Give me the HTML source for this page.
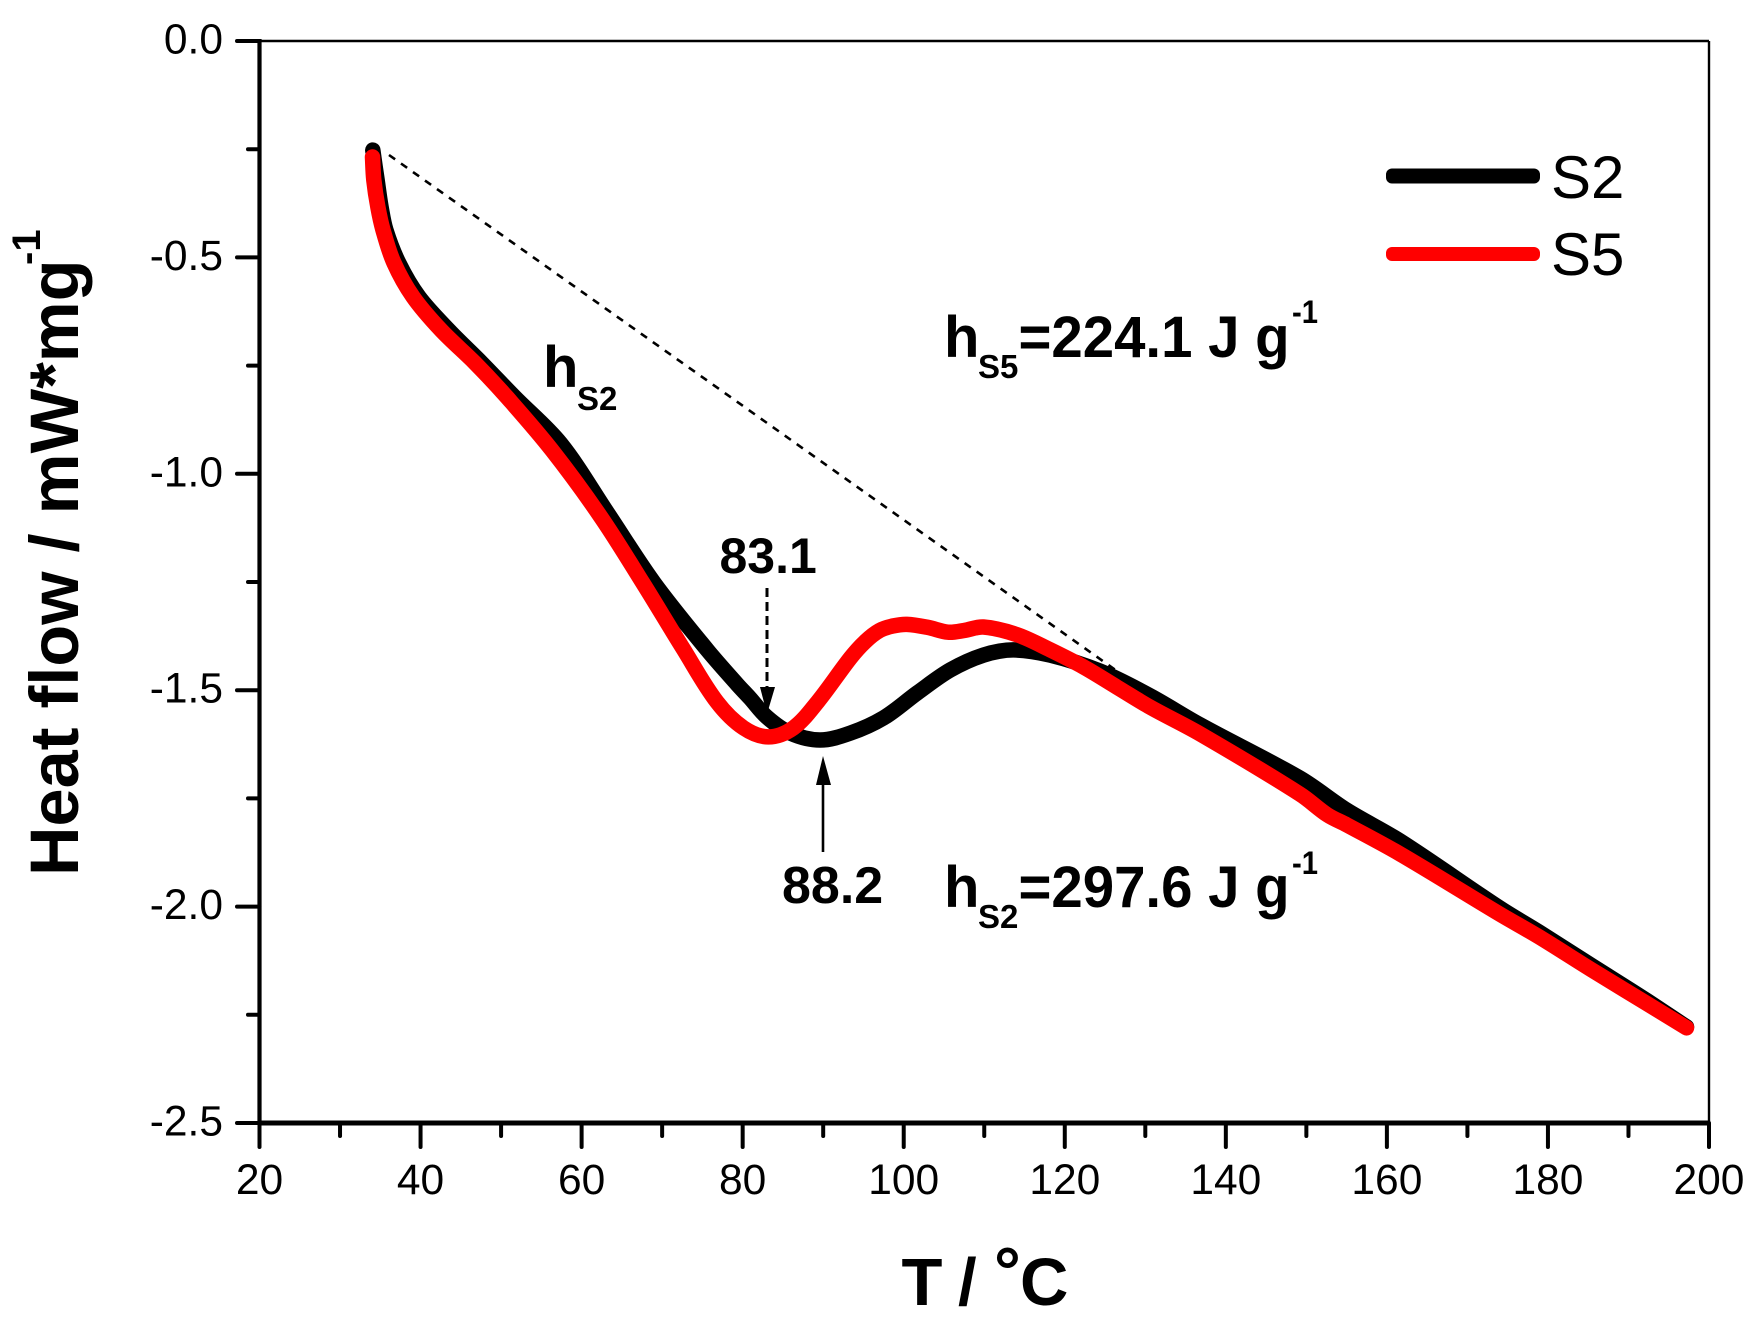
<!DOCTYPE html>
<html>
<head>
<meta charset="utf-8">
<title>Heat flow chart</title>
<style>
html,body{margin:0;padding:0;background:#fff;}
svg{display:block;}
text{font-family:"Liberation Sans",sans-serif;fill:#000;}
.b{font-weight:bold;}
</style>
</head>
<body>
<svg id="chart" xmlns="http://www.w3.org/2000/svg" width="1759" height="1340" viewBox="0 0 1759 1340">
  <rect x="0" y="0" width="1759" height="1340" fill="#fff"/>
  <g id="axes"></g>

  <line x1="389" y1="155" x2="1155" y2="698" stroke="#000" stroke-width="2.6" stroke-dasharray="7.5 7.2"/>

  <g id="series"></g>

  <line x1="767" y1="588" x2="767" y2="690" stroke="#000" stroke-width="3" stroke-dasharray="9 5"/>
  <polygon points="760,687 775,687 767,714" fill="#000"/>
  <line x1="823" y1="852" x2="823" y2="782" stroke="#000" stroke-width="2.6"/>
  <polygon points="816,785 831,785 823,756" fill="#000"/>

  <text class="b" x="719.5" y="573" font-size="50">83.1</text>
  <text class="b" x="782" y="903" font-size="52">88.2</text>

  <text class="b" x="543" y="387" font-size="58">h</text>
  <text class="b" x="577" y="410" font-size="33">S2</text>

  <text class="b" x="944" y="357" font-size="58">h</text>
  <text class="b" x="978" y="378" font-size="33">S5</text>
  <text class="b" x="1018.5" y="357" font-size="58" textLength="271" lengthAdjust="spacingAndGlyphs">=224.1 J g</text>
  <text class="b" x="1292" y="323" font-size="32" textLength="26" lengthAdjust="spacingAndGlyphs">-1</text>

  <text class="b" x="944" y="907" font-size="58">h</text>
  <text class="b" x="978" y="928" font-size="33">S2</text>
  <text class="b" x="1018.5" y="907" font-size="58" textLength="271" lengthAdjust="spacingAndGlyphs">=297.6 J g</text>
  <text class="b" x="1292" y="874" font-size="32" textLength="26" lengthAdjust="spacingAndGlyphs">-1</text>

  <rect x="1386" y="168.5" width="154" height="15" rx="6" fill="#000"/>
  <text x="1551" y="198" font-size="60">S2</text>
  <rect x="1386" y="247" width="154" height="14" rx="6" fill="#f00"/>
  <text x="1551" y="275" font-size="60">S5</text>

  <text class="b" transform="translate(78,876) rotate(-90)" font-size="68.5">Heat flow / mW*mg</text>
  <text class="b" transform="translate(40,265) rotate(-90)" font-size="40">-1</text>
  <text class="b" x="901.5 943 958 977 994 1020" y="1305" font-size="67">T / <tspan dy="-11">°</tspan><tspan dy="11">C</tspan></text>
</svg>
<script>
// Chart data
const xTickValues = [20, 40, 60, 80, 100, 120, 140, 160, 180, 200];
const xMinorTickValues = [30, 50, 70, 90, 110, 130, 150, 170, 190];
const yTickValues = [0, -0.5, -1, -1.5, -2, -2.5];
const yMinorTickValues = [-0.25, -0.75, -1.25, -1.75, -2.25];
const yTickLabels = ['0.0', '-0.5', '-1.0', '-1.5', '-2.0', '-2.5'];

const s2Temps = [34.07, 34.6, 35.1, 35.7, 37.3, 39.8, 43.5, 47.6, 51.7, 57.4, 63.2, 69, 75.6, 79.3, 80.9, 83, 85.9, 89.6, 93.4, 97.5, 101.7, 105.8, 109.9, 113.6, 118.2, 124.4, 130.6, 136.8, 149.2, 155, 161.6, 174, 178.9, 185.5, 192.2, 197.2];
const s2Flow = [-0.252, -0.321, -0.384, -0.437, -0.513, -0.591, -0.668, -0.744, -0.823, -0.93, -1.09, -1.252, -1.407, -1.486, -1.518, -1.562, -1.599, -1.615, -1.599, -1.564, -1.506, -1.453, -1.419, -1.407, -1.419, -1.456, -1.513, -1.58, -1.703, -1.777, -1.848, -2.003, -2.059, -2.137, -2.216, -2.278];

const s5Temps = [34.03, 34.2, 34.7, 35.34, 36.7, 39.06, 42.54, 46.76, 50.73, 56.3, 62.4, 67.6, 72.7, 76.8, 80.1, 83.2, 86.3, 89.3, 93.4, 95.2, 97, 98.6, 100.4, 103, 105.5, 107.5, 109.9, 114.1, 118.2, 122.3, 126.5, 130.6, 136.8, 149.2, 152.6, 155, 161.6, 174, 178.9, 185.5, 192.2, 197.2];
const s5Flow = [-0.268, -0.321, -0.384, -0.437, -0.513, -0.591, -0.668, -0.744, -0.823, -0.945, -1.1, -1.252, -1.407, -1.527, -1.587, -1.608, -1.587, -1.527, -1.425, -1.388, -1.362, -1.352, -1.348, -1.355, -1.366, -1.362, -1.354, -1.372, -1.407, -1.446, -1.493, -1.539, -1.601, -1.74, -1.788, -1.811, -1.878, -2.017, -2.07, -2.147, -2.223, -2.28];

// Axis functions
const NS = 'http://www.w3.org/2000/svg';
const plotLeft = 259.5, plotRight = 1709, plotTop = 41, plotBottom = 1123;
function xPos(v) { return plotLeft + (v - 20) / 180 * (plotRight - plotLeft); }
function yPos(v) { return plotTop + (0 - v) / 2.5 * (plotBottom - plotTop); }

const axes = document.getElementById('axes');
const seriesGroup = document.getElementById('series');

function drawLine(x1, y1, x2, y2, w, cap) {
  const l = document.createElementNS(NS, 'line');
  l.setAttribute('x1', x1);
  l.setAttribute('y1', y1);
  l.setAttribute('x2', x2);
  l.setAttribute('y2', y2);
  l.setAttribute('stroke', '#000');
  l.setAttribute('stroke-width', w);
  l.setAttribute('stroke-linecap', cap || 'butt');
  axes.appendChild(l);
  return l;
}
function drawLabel(x, y, str, anchor) {
  const t = document.createElementNS(NS, 'text');
  t.setAttribute('x', x);
  t.setAttribute('y', y);
  t.setAttribute('font-size', '42.5');
  t.setAttribute('text-anchor', anchor);
  t.textContent = str;
  axes.appendChild(t);
  return t;
}

const frameTop = drawLine(plotLeft, plotTop, plotRight, plotTop, 2.4);


const frameRight = drawLine(plotRight, plotTop, plotRight, plotBottom, 2.4);


const axisLeft = drawLine(plotLeft, plotTop - 2, plotLeft, plotBottom, 4.2);


const axisBottom = drawLine(plotLeft, plotBottom, plotRight, plotBottom, 5);



xTickValues.forEach(function (v) {
  const tick = drawLine(xPos(v), plotBottom, xPos(v), 1147, 4, 'round');
  
  
  const label = drawLabel(xPos(v), 1194, String(v), 'middle');
  
  
});
xMinorTickValues.forEach(function (v) {
  const tick = drawLine(xPos(v), plotBottom, xPos(v), 1136, 4, 'round');
  
  
});
yTickValues.forEach(function (v, i) {
  const tick = drawLine(237, yPos(v), plotLeft, yPos(v), 4, 'round');
  
  
  const label = drawLabel(223, yPos(v) + 12.5, yTickLabels[i], 'end');
  
  
});
yMinorTickValues.forEach(function (v) {
  const tick = drawLine(248, yPos(v), plotLeft, yPos(v), 4, 'round');
  
  
});

// Smooth path through the data points (tangents limited by neighbouring segment length)
function smoothPath(xs, ys) {
  const pts = xs.map(function (x, i) { return [xPos(x), yPos(ys[i])]; });
  function seg(a, b) { return Math.hypot(b[0] - a[0], b[1] - a[1]) || 1; }
  function tangent(i) {
    const a = pts[Math.max(i - 1, 0)];
    const b = pts[Math.min(i + 1, pts.length - 1)];
    const len = seg(a, b);
    return [(b[0] - a[0]) / len, (b[1] - a[1]) / len];
  }
  let d = 'M' + pts[0][0].toFixed(1) + ' ' + pts[0][1].toFixed(1);
  for (let i = 0; i < pts.length - 1; i++) {
    const p1 = pts[i];
    const p2 = pts[i + 1];
    const L = seg(p1, p2) / 3;
    const t1 = tangent(i);
    const t2 = tangent(i + 1);
    d += 'C' + (p1[0] + t1[0] * L).toFixed(1) + ' ' + (p1[1] + t1[1] * L).toFixed(1) + ' ' +
         (p2[0] - t2[0] * L).toFixed(1) + ' ' + (p2[1] - t2[1] * L).toFixed(1) + ' ' +
         p2[0].toFixed(1) + ' ' + p2[1].toFixed(1);
  }
  return d;
}
function drawSeries(xs, ys, color, width) {
  const p = document.createElementNS(NS, 'path');
  p.setAttribute('d', smoothPath(xs, ys));
  p.setAttribute('fill', 'none');
  p.setAttribute('stroke', color);
  p.setAttribute('stroke-width', width);
  p.setAttribute('stroke-linecap', 'round');
  p.setAttribute('stroke-linejoin', 'round');
  seriesGroup.appendChild(p);
  return p;
}
const lineS2 = drawSeries(s2Temps, s2Flow, '#000', 15.5);


const lineS5 = drawSeries(s5Temps, s5Flow, '#f00', 15.5);


</script>
</body>
</html>
